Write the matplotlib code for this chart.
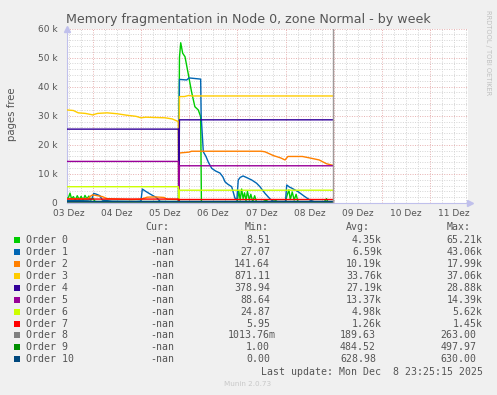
import matplotlib
matplotlib.use("Agg")
import matplotlib.pyplot as plt
from matplotlib.patches import Rectangle
from matplotlib.ticker import FuncFormatter

W, H = 497, 395

# x: Tage seit 03.12.2025 00:00, y: tausend Seiten
orders = ["Order 0", "Order 1", "Order 2", "Order 3", "Order 4", "Order 5",
          "Order 6", "Order 7", "Order 8", "Order 9", "Order 10"]
colors = ["#00CC00", "#0066B3", "#FF8000", "#FFCC00", "#330099", "#990099",
          "#CCFF00", "#FF0000", "#808080", "#008F00", "#00487D"]

t0 = [0.467, 0.50, 0.53, 0.56, 0.60, 0.64, 0.68, 0.72, 0.76, 0.80, 0.84, 0.88, 0.92,
      0.96, 1.00, 1.05, 1.20, 2.00, 2.78, 2.80, 2.826, 2.867, 2.915, 2.98, 3.05, 3.12,
      3.19, 3.24, 3.255, 3.90, 4.00, 4.03, 4.06, 4.09, 4.12, 4.15, 4.18, 4.21, 4.25,
      4.28, 4.32, 4.36, 4.40, 4.50, 4.60, 4.65, 4.80, 4.85, 5.00, 5.03, 5.07, 5.10,
      5.14, 5.18, 5.22, 5.26, 5.50, 5.80, 5.85, 5.88, 5.975]
v0 = [1.5, 2.0, 3.4, 1.5, 2.2, 1.0, 2.5, 1.2, 2.3, 1.0, 2.6, 1.4, 2.4,
      1.0, 1.8, 0.5, 0.3, 0.2, 0.2, 50.0, 55.1, 51.5, 50.3, 44.6, 38.3, 33.1,
      32.0, 29.7, 0.3, 0.2, 0.5, 4.2, 1.0, 4.8, 1.5, 3.5, 0.8, 4.0, 1.0,
      3.0, 0.5, 2.5, 0.3, 0.2, 1.0, 0.2, 0.8, 0.2, 0.5, 2.5, 4.5, 1.2,
      3.8, 1.0, 3.0, 0.3, 0.2, 0.3, 1.5, 0.3, 0.2]

t1 = [0.467, 0.90, 0.98, 1.02, 1.08, 1.15, 1.20, 1.40, 1.90, 2.00, 2.03, 2.10, 2.20,
      2.33, 2.40, 2.78, 2.80, 2.95, 3.00, 3.24, 3.25, 3.295, 3.35, 3.40, 3.47, 3.55,
      3.64, 3.70, 3.745, 3.80, 3.884, 3.95, 3.99, 4.02, 4.06, 4.12, 4.20, 4.30, 4.40,
      4.47, 4.575, 4.68, 4.75, 5.00, 5.025, 5.08, 5.13, 5.26, 5.40, 5.51, 5.60, 5.975]
v1 = [0.8, 1.0, 1.2, 3.3, 3.0, 2.5, 1.0, 0.6, 0.5, 0.6, 4.8, 4.0, 3.0,
      1.8, 0.5, 0.4, 42.5, 42.3, 43.0, 42.6, 30.0, 17.6, 16.0, 14.0, 11.9, 11.0,
      10.3, 9.0, 7.3, 6.5, 5.6, 1.7, 1.0, 7.9, 8.8, 9.3, 8.7, 7.9, 6.8,
      5.6, 3.3, 1.4, 0.5, 0.5, 6.2, 5.5, 5.1, 3.9, 2.2, 1.0, 0.4, 0.3]

t2 = [0.467, 0.90, 0.95, 1.00, 1.10, 1.20, 1.30, 1.80, 2.00, 2.13, 2.30, 2.48, 2.55,
      2.78, 2.785, 2.80, 3.00, 3.05, 4.50, 4.575, 4.75, 4.90, 4.99, 5.05, 5.35, 5.50,
      5.70, 5.85, 5.975]
v2 = [1.5, 1.5, 2.3, 2.8, 2.5, 2.2, 1.5, 1.2, 1.3, 2.0, 2.1, 1.9, 1.3,
      1.2, 0.14, 17.2, 17.5, 17.8, 17.8, 17.6, 16.3, 15.5, 14.8, 16.0, 16.0, 15.5,
      14.8, 13.5, 13.0]

t3 = [0.467, 0.60, 0.70, 0.85, 1.00, 1.10, 1.30, 1.50, 1.70, 1.90, 2.00, 2.10, 2.30,
      2.50, 2.65, 2.775, 2.785, 2.80, 2.90, 3.00, 3.05, 5.975]
v3 = [32.0, 31.8, 31.0, 30.8, 30.3, 30.8, 31.0, 30.7, 30.2, 29.8, 29.3, 29.5, 29.4,
      29.3, 28.9, 28.0, 0.87, 36.6, 36.6, 37.0, 36.8, 36.8]

t4 = [0.467, 2.78, 2.785, 2.80, 5.975]
v4 = [25.4, 25.4, 0.38, 28.6, 28.6]

t5 = [0.467, 2.78, 2.785, 2.80, 5.975]
v5 = [14.3, 14.3, 0.09, 12.8, 12.8]

t6 = [0.467, 2.78, 2.785, 2.80, 5.975]
v6 = [5.6, 5.6, 0.02, 4.4, 4.4]

t7 = [0.467, 2.78, 2.785, 2.80, 5.975]
v7 = [1.35, 1.35, 0.01, 1.2, 1.2]

t8 = [0.467, 2.78, 2.80, 5.975]
v8 = [0.26, 0.26, 0.19, 0.19]

t9 = [0.467, 2.78, 2.80, 5.975]
v9 = [0.50, 0.50, 0.48, 0.48]

t10 = [0.467, 5.975]
v10 = [0.63, 0.63]

times = [t0, t1, t2, t3, t4, t5, t6, t7, t8, t9, t10]
values = [v0, v1, v2, v3, v4, v5, v6, v7, v8, v9, v10]

cur = ["-nan"] * 11
mins = ["8.51", "27.07", "141.64", "871.11", "378.94", "88.64", "24.87", "5.95",
        "1013.76m", "1.00", "0.00"]
avgs = ["4.35k", "6.59k", "10.19k", "33.76k", "27.19k", "13.37k", "4.98k", "1.26k",
        "189.63", "484.52", "628.98"]
maxs = ["65.21k", "43.06k", "17.99k", "37.06k", "28.88k", "14.39k", "5.62k", "1.45k",
        "263.00", "497.97", "630.00"]

day_labels = ["03 Dez", "04 Dez", "05 Dez", "06 Dez", "07 Dez", "08 Dez",
              "09 Dez", "10 Dez", "11 Dez"]
now = 5.975
xmin, xmax = 0.467, 8.786
ymax = 60

txt = "#555555"


def fx(px):
    return px / W


def fy(py):
    return 1 - py / H


fig = plt.figure(figsize=(W / 100, H / 100), dpi=100, facecolor="#F0F0F0")
ax = fig.add_axes([fx(67), fy(203), (468 - 67) / W, (203 - 28.5) / H])
ax.set_facecolor("white")
ax.set_xlim(xmin, xmax)
ax.set_ylim(0, ymax)

# Raster: fein alle 6h / 2k, grob alle 24h / 10k
q = 1
while q * 0.25 < xmax:
    x = q * 0.25
    if x > xmin:
        if q % 4 == 0:
            ax.axvline(x, color="#E6B0B0", lw=0.7, ls=(0, (1, 1.5)), zorder=1)
        else:
            ax.axvline(x, color="#D4D4D4", lw=0.7, ls=(0, (1, 1.5)), zorder=0.5)
    q += 1
for yv in range(2, ymax + 1, 2):
    if yv % 10 == 0:
        ax.axhline(yv, color="#E6B0B0", lw=0.7, ls=(0, (1, 1.5)), zorder=1)
    else:
        ax.axhline(yv, color="#D4D4D4", lw=0.7, ls=(0, (1, 1.5)), zorder=0.5)

for i in range(len(orders)):
    ax.plot(times[i], values[i], color=colors[i], lw=1.0, zorder=3 + i * 0.1)

ax.axvline(now, color="#A09A9A", lw=1.0, zorder=4)

for s in ["top", "right"]:
    ax.spines[s].set_visible(False)
for s in ["left", "bottom"]:
    ax.spines[s].set_color("#C0C0EC")
    ax.spines[s].set_linewidth(0.8)
ax.plot([xmin], [ymax], marker="^", ms=4, color="#C0C0EC", clip_on=False, zorder=5)
ax.plot([xmax + 0.05], [0], marker=">", ms=4, color="#C0C0EC", clip_on=False, zorder=5)

ax.set_xticks([d + 0.5 for d in range(len(day_labels))], day_labels)
ax.set_yticks(range(0, ymax + 1, 10))
ax.yaxis.set_major_formatter(FuncFormatter(lambda v, p: "0" if v == 0 else f"{v:.0f} k"))
ax.tick_params(axis="both", length=0, labelsize=6.5, labelcolor=txt)
ax.tick_params(axis="y", pad=7)
ax.tick_params(axis="x", pad=4)

fig.text(fx(248), fy(20), "Memory fragmentation in Node 0, zone Normal - by week",
         ha="center", va="center", fontsize=9.1, color=txt)
fig.text(fx(12), fy(114), "pages free", rotation=90, ha="center", va="center",
         fontsize=7.3, color=txt)
fig.text(fx(488), fy(53), "RRDTOOL / TOBI OETIKER", rotation=270, ha="center",
         va="center", fontsize=4.8, color="#C0C0C0")

# Legende
mono = "DejaVu Sans Mono"
fs = 7.15
hy = 227.3
fig.text(fx(145), fy(hy), "Cur:", ha="left", va="center", family=mono, fontsize=fs, color=txt)
fig.text(fx(245), fy(hy), "Min:", ha="left", va="center", family=mono, fontsize=fs, color=txt)
fig.text(fx(346), fy(hy), "Avg:", ha="left", va="center", family=mono, fontsize=fs, color=txt)
fig.text(fx(447), fy(hy), "Max:", ha="left", va="center", family=mono, fontsize=fs, color=txt)


def right_edge(val, edge):
    return edge if val[-1] in "km" else edge - 6


for i, name in enumerate(orders):
    y = 240 + i * 11.93
    fig.add_artist(Rectangle((fx(14), fy(y + 3)), 6 / W, 6 / H, transform=fig.transFigure,
                             facecolor=colors[i], edgecolor="none"))
    fig.text(fx(26), fy(y), name, ha="left", va="center", family=mono, fontsize=fs, color=txt)
    fig.text(fx(174.5), fy(y), cur[i], ha="right", va="center", family=mono, fontsize=fs, color=txt)
    fig.text(fx(right_edge(mins[i], 276)), fy(y), mins[i], ha="right", va="center",
             family=mono, fontsize=fs, color=txt)
    fig.text(fx(right_edge(avgs[i], 382)), fy(y), avgs[i], ha="right", va="center",
             family=mono, fontsize=fs, color=txt)
    fig.text(fx(right_edge(maxs[i], 482.7)), fy(y), maxs[i], ha="right", va="center",
             family=mono, fontsize=fs, color=txt)

fig.text(fx(482.7), fy(371.7), "Last update: Mon Dec  8 23:25:15 2025", ha="right",
         va="center", family=mono, fontsize=fs, color=txt)
fig.text(fx(248), fy(384.5), "Munin 2.0.73", ha="center", va="center", fontsize=5.2,
         color="#C8C8C8")

fig.savefig("out.png", dpi=100, facecolor=fig.get_facecolor())
